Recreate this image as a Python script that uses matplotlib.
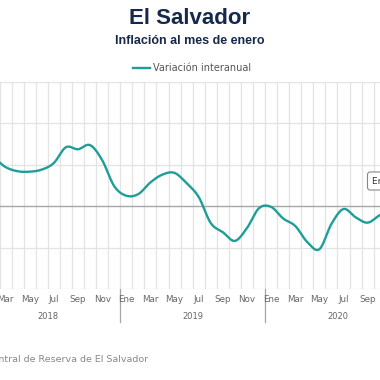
import numpy as np
import matplotlib
matplotlib.use("Agg")
import matplotlib.pyplot as plt
from matplotlib.transforms import blended_transform_factory

# ---------------- data ----------------
months = ["Ene", "Feb", "Mar", "Abr", "May", "Jun", "Jul", "Ago", "Sep", "Oct", "Nov", "Dic"]
years = ["2018", "2019", "2020"]
# Variación interanual (%), monthly from Ene 2018
values = [1.20, 1.16, 0.94, 0.84, 0.83, 0.88, 1.04, 1.42, 1.37, 1.47, 1.11, 0.48,
          0.25, 0.29, 0.57, 0.76, 0.80, 0.55, 0.22, -0.41, -0.63, -0.84, -0.53, -0.05,
          -0.02, -0.30, -0.48, -0.87, -1.04, -0.43, -0.07, -0.27, -0.40, -0.22, -0.10, -0.10]
title = "El Salvador"
subtitle = "Inflación al mes de enero"
legend_label = "Variación interanual"
source = "Fuente: Banco Central de Reserva de El Salvador"
tooltip = "Ene 2021"

TEAL = "#1f9e97"

def catmull_rom(x, y, n=20):
    x = np.asarray(x, float)
    y = np.asarray(y, float)
    xs, ys = [], []
    P = np.column_stack([x, y])
    P = np.vstack([P[0] - (P[1] - P[0]), P, P[-1] + (P[-1] - P[-2])])
    for k in range(1, len(P) - 2):
        p0, p1, p2, p3 = P[k - 1], P[k], P[k + 1], P[k + 2]
        t = np.linspace(0, 1, n, endpoint=False)[:, None]
        pts = 0.5 * ((2 * p1) + (-p0 + p2) * t + (2 * p0 - 5 * p1 + 4 * p2 - p3) * t ** 2
                     + (-p0 + 3 * p1 - 3 * p2 + p3) * t ** 3)
        xs.append(pts[:, 0]); ys.append(pts[:, 1])
    xs.append([x[-1]]); ys.append([y[-1]])
    return np.concatenate(xs), np.concatenate(ys)

W = H = 380
fig = plt.figure(figsize=(3.8, 3.8), dpi=100)
fig.patch.set_facecolor("white")

# axes in pixel geometry (plot wider than the visible crop)
n = len(values)
px_per = 12.07
left_px = -24.6
right_px = left_px + px_per * n
top_px, bot_px = 81.7, 289.0
ax = fig.add_axes([left_px / W, 1 - bot_px / H, (right_px - left_px) / W, (bot_px - top_px) / H])
ax.set_xlim(-0.5, n - 0.5)
ax.set_ylim(-2, 3)
for s in ax.spines.values():
    s.set_visible(False)
ax.set_xticks([]); ax.set_yticks([])

# grid
for k in range(n + 1):
    ax.axvline(k - 0.5, color="#e3e3e3", lw=0.9, zorder=1)
for v in range(-2, 4):
    if v == 0:
        continue
    ax.axhline(v, color="#e3e3e3", lw=0.9, zorder=1)
ax.axhline(0, color="#a6a6a6", lw=1.0, zorder=2)

xi = np.arange(n)
sx, sy = catmull_rom(xi, values)
ax.plot(sx, sy, color=TEAL, lw=1.7, zorder=3, solid_capstyle="round")

# x labels
tr = blended_transform_factory(ax.transData, ax.transAxes)
ah = bot_px - top_px
for i in range(n):
    if i % 2 == 0:
        ax.text(i, -(300 - bot_px) / ah, months[i % 12], transform=tr, ha="center", va="center",
                fontsize=6.3, color="#666666", clip_on=False)
for j, yr in enumerate(years):
    ax.text(j * 12 + 5.5, -(316.5 - bot_px) / ah, yr, transform=tr, ha="center", va="center",
            fontsize=6.0, color="#666666", clip_on=False)
for j in range(len(years) + 1):
    ax.plot([j * 12 - 0.5] * 2, [0, -(322 - bot_px) / ah], transform=tr, color="#a6a6a6",
            lw=0.9, clip_on=False, zorder=2)

# titles
fig.text(0.5, 1 - 18 / H, title, ha="center", va="center", fontsize=16, fontweight="bold",
         color="#15294a", family="Liberation Sans")
fig.text(0.5, 1 - 41 / H, subtitle, ha="center", va="center", fontsize=9, fontweight="bold",
         color="#15294a", family="Liberation Sans")

# legend
fig.add_artist(plt.Line2D([133 / W, 150 / W], [1 - 68 / H] * 2, color=TEAL, lw=1.7))
fig.text(153 / W, 1 - 68 / H, legend_label, ha="left", va="center", fontsize=7, color="#555555")

# source
fig.text(148 / W, 1 - 360 / H, source, ha="right", va="center", fontsize=6.8, color="#888888")

# tooltip (cut off at the right edge)
fig.text(372 / W, 1 - 181 / H, tooltip, ha="left", va="center", fontsize=6.5, color="#333333",
         bbox=dict(boxstyle="round,pad=0.5,rounding_size=0.3", fc="white", ec="#888888", lw=0.8))

fig.savefig("out.png", dpi=100, facecolor="white")
